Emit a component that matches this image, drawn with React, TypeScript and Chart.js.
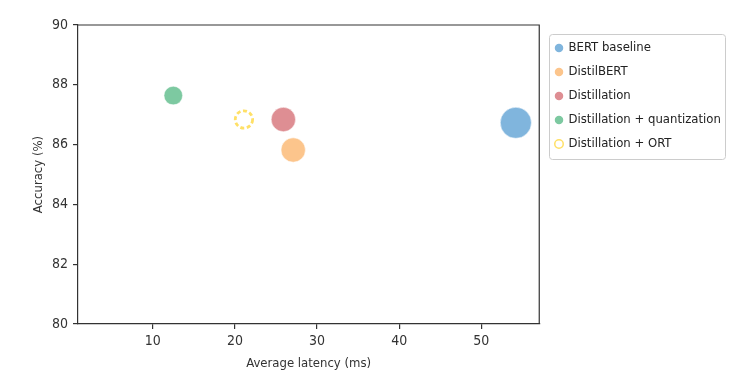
import React, { useEffect, useRef } from "react";
import { Chart, registerables } from "chart.js";

Chart.register(...registerables);

const models = [
  "BERT baseline",
  "DistilBERT",
  "Distillation",
  "Distillation + quantization",
  "Distillation + ORT",
];
const latencyMs = [54.2, 27.1, 25.9, 12.5, 21.1];
const accuracyPct = [86.73, 85.82, 86.84, 87.64, 86.84];
const sizeMb = [418, 256, 256, 150, 130];
const xTicks = [10, 20, 30, 40, 50];
const yTicks = [80, 82, 84, 86, 88, 90];

const colors = ["#80b5dd", "#fcc58c", "#de8e93", "#7dc9a1", "#ffe066"];
const FONT = "'Liberation Sans Narrow', 'DejaVu Sans Condensed', Roboto, sans-serif";
const MARKER_X = 559;

export default function App() {
  const ref = useRef<HTMLCanvasElement | null>(null);

  useEffect(() => {
    document.body.style.margin = "0";
    const canvas = ref.current!;
    const datasets = models.map((m, i) => {
      const dashed = i === 4;
      return {
        label: m,
        data: [{ x: latencyMs[i], y: accuracyPct[i], r: 0.76 * Math.sqrt(sizeMb[i]) }],
        backgroundColor: dashed ? "rgba(255,255,255,0)" : colors[i],
        borderColor: dashed ? colors[i] : "rgba(255,255,255,0.5)",
        borderWidth: dashed ? 2.8 : 1,
        hoverRadius: 0,
      };
    });

    const framePlugin = {
      id: "frame",
      beforeDatasetDraw(chart: any, args: any) {
        if (args.index === 4) {
          chart.ctx.save();
          chart.ctx.setLineDash([4, 2.6]);
        }
      },
      afterDatasetDraw(chart: any, args: any) {
        if (args.index === 4) chart.ctx.restore();
      },
      afterLayout(chart: any) {
        const lg = chart.legend;
        if (lg) {
          const target = MARKER_X - 11 - 3;
          const d = target - lg.left;
          lg.left += d;
          lg.right += d;
        }
      },
      afterDraw(chart: any) {
        const { ctx, chartArea } = chart;
        ctx.save();
        ctx.strokeStyle = "#333";
        ctx.lineWidth = 1.2;
        ctx.beginPath();
        ctx.moveTo(chartArea.left, chartArea.top);
        ctx.lineTo(chartArea.right, chartArea.top);
        ctx.lineTo(chartArea.right, chartArea.bottom);
        ctx.stroke();
        const hb = chart.legend?.legendHitBoxes;
        if (hb && hb.length) {
          const l = Math.min(...hb.map((h: any) => h.left)) - 7;
          const t = hb[0].top - 8;
          const r = Math.max(...hb.map((h: any) => h.left + h.width)) + 4;
          const b = hb[hb.length - 1].top + hb[hb.length - 1].height + 8;
          ctx.strokeStyle = "#cccccc";
          ctx.lineWidth = 1;
          ctx.beginPath();
          (ctx as any).roundRect(Math.round(l) + 0.5, Math.round(t) + 0.5, Math.round(r - l), Math.round(b - t), 3);
          ctx.stroke();
        }
        ctx.restore();
      },
    };

    const chart = new Chart(canvas, {
      type: "bubble",
      data: { datasets },
      plugins: [framePlugin],
      options: {
        responsive: false,
        animation: false,
        events: [],
        layout: { padding: { top: 25, right: 16, left: 0, bottom: 0 } },
        scales: {
          x: {
            type: "linear",
            min: 0.9,
            max: 57.05,
            afterBuildTicks: (s: any) => {
              s.ticks = xTicks.map((v) => ({ value: v }));
            },
            afterFit: (s: any) => {
              s.height = 55;
            },
            grid: { drawOnChartArea: false, drawTicks: true, tickLength: 5, color: "#333", lineWidth: 1.2 },
            border: { display: true, color: "#333", width: 1.2 },
            ticks: { color: "#333", padding: 4, maxRotation: 0, font: { family: FONT, size: 14 } },
            title: {
              display: true,
              text: "Average latency (ms)",
              color: "#333",
              padding: { top: 0, bottom: 8 },
              font: { family: FONT, size: 13 },
            },
          },
          y: {
            type: "linear",
            min: 80,
            max: 90,
            afterBuildTicks: (s: any) => {
              s.ticks = yTicks.map((v) => ({ value: v }));
            },
            afterFit: (s: any) => {
              s.width = 78;
            },
            grid: { drawOnChartArea: false, drawTicks: true, tickLength: 5, color: "#333", lineWidth: 1.2 },
            border: { display: true, color: "#333", width: 1.2 },
            ticks: { color: "#333", padding: 5, font: { family: FONT, size: 14 } },
            title: {
              display: true,
              text: "Accuracy (%)",
              color: "#333",
              padding: { top: 31, bottom: 0 },
              font: { family: FONT, size: 13 },
            },
          },
        },
        plugins: {
          tooltip: { enabled: false },
          legend: {
            position: "right",
            align: "start",
            title: { display: true, text: "", padding: { top: 1, bottom: 1 }, font: { size: 3.5, lineHeight: 1 } },
            labels: {
              usePointStyle: true,
              pointStyle: "circle",
              boxWidth: 6,
              boxHeight: 6,
              padding: 11,
              color: "#222",
              font: { family: FONT, size: 13 },
              generateLabels: () =>
                models.map((m, i) => ({
                  text: m,
                  fillStyle: i === 4 ? "#ffffff" : colors[i],
                  strokeStyle: colors[i],
                  lineWidth: i === 4 ? 1.5 : 0,
                  lineDash: [],
                  pointStyle: "circle",
                  hidden: false,
                  datasetIndex: i,
                  fontColor: "#222",
                })),
            },
          },
        },
      },
    } as any);

    return () => chart.destroy();
  }, []);

  return (
    <div style={{ width: 735, height: 379 }}>
      <canvas ref={ref} width={735} height={379} style={{ display: "block" }} />
    </div>
  );
}
